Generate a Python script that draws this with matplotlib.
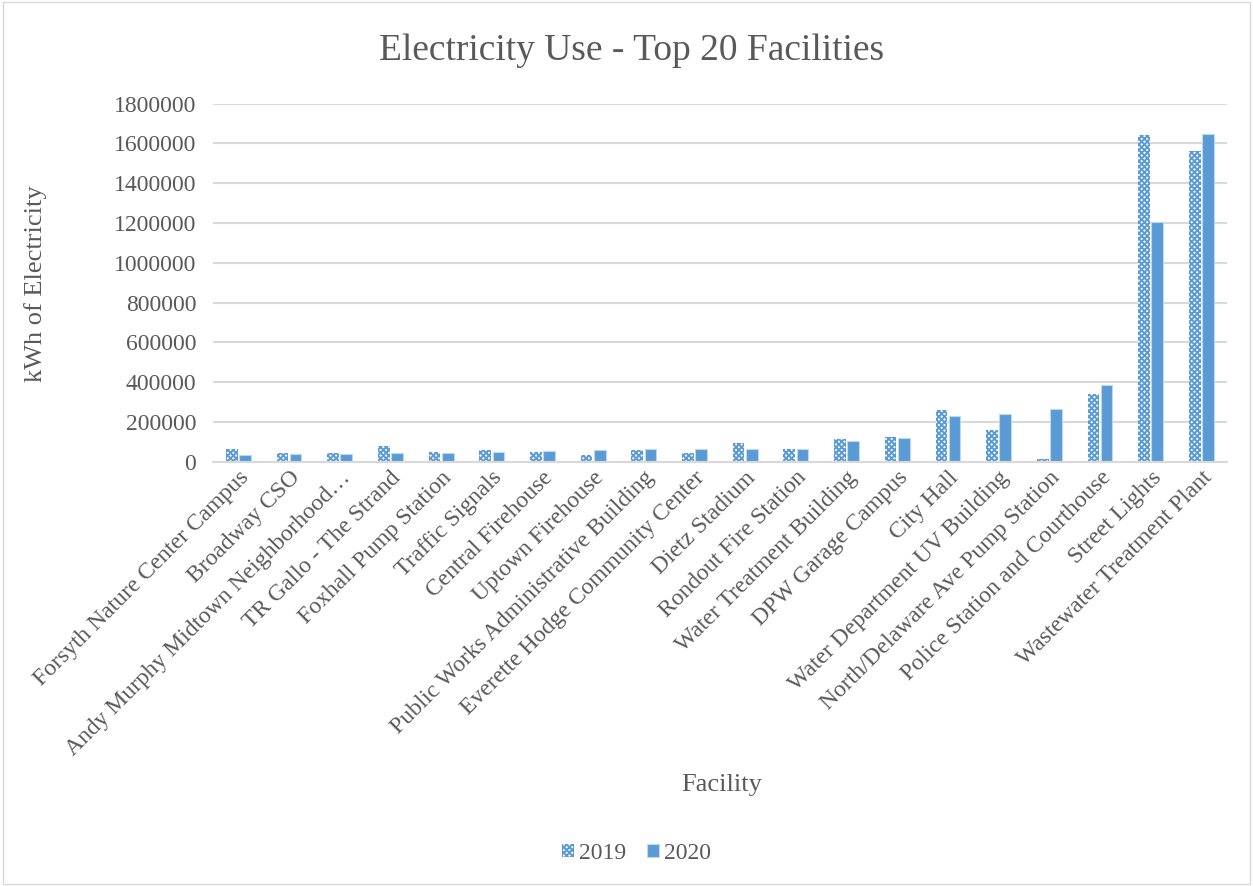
import matplotlib.pyplot as plt
import numpy as np

plt.rcParams['font.family'] = ['Liberation Serif', 'DejaVu Serif']
plt.rcParams['hatch.linewidth'] = 1.4

# facilities and yearly kWh use
facilities = ["Forsyth Nature Center Campus", "Broadway CSO", "Andy Murphy Midtown Neighborhood…",
              "TR Gallo - The Strand", "Foxhall Pump Station", "Traffic Signals", "Central Firehouse",
              "Uptown Firehouse", "Public Works Administrative Building", "Everette Hodge Community Center",
              "Dietz Stadium", "Rondout Fire Station", "Water Treatment Building", "DPW Garage Campus",
              "City Hall", "Water Department UV Building", "North/Delaware Ave Pump Station",
              "Police Station and Courthouse", "Street Lights", "Wastewater Treatment Plant"]
use_2019 = [64000, 45000, 45000, 76000, 50000, 57000, 50000, 35000, 59000, 45000,
            93000, 62000, 113000, 122000, 258000, 159000, 15000, 341000, 1640000, 1563000]
use_2020 = [35000, 37000, 40000, 42000, 45000, 47000, 52000, 57000, 61000, 61000,
            61000, 62000, 106000, 120000, 231000, 241000, 265000, 386000, 1206000, 1649000]
yticks = [0, 200000, 400000, 600000, 800000, 1000000, 1200000, 1400000, 1600000, 1800000]

blue = '#5b9bd5'
grey = '#595959'

fig = plt.figure(figsize=(12.53, 8.86), dpi=100)
ax = fig.add_axes([0.170, 0.479, 0.809, 0.404])

x = np.arange(len(facilities))
w = 0.23
b1 = ax.bar(x - 0.13, use_2019, w, color='white', edgecolor=blue, hatch='xxxxxx', linewidth=0, label='2019')
b2 = ax.bar(x + 0.13, use_2020, w, color=blue, edgecolor='#bdd7ee', linewidth=0.8, label='2020')

ax.set_xlim(-0.5, len(facilities) - 0.5)
ax.set_ylim(0, 1800000)
ax.set_yticks(yticks)
ax.set_yticklabels([str(v) for v in yticks], fontsize=17, color=grey)
ax.yaxis.grid(True, color='#d9d9d9', linewidth=1.5)
ax.set_axisbelow(True)
for s in ['top', 'right', 'left']:
    ax.spines[s].set_visible(False)
ax.spines['bottom'].set_color('#d9d9d9')
ax.spines['bottom'].set_linewidth(1.5)
ax.tick_params(axis='both', length=0)
ax.tick_params(axis='y', pad=12)
ax.tick_params(axis='x', pad=4)

ax.set_xticks(x)
ax.set_xticklabels(facilities, rotation=45, ha='right', rotation_mode='anchor', fontsize=17, color=grey)

fig.text(0.028, 0.68, 'kWh of Electricity', rotation=90, ha='center', va='center', fontsize=19, color=grey)
fig.text(0.576, 0.114, 'Facility', ha='center', va='center', fontsize=19, color=grey)
fig.suptitle('Electricity Use - Top 20 Facilities', x=0.504, y=0.962, fontsize=27, color=grey)

leg = fig.legend(handles=[b1, b2], loc='center', bbox_to_anchor=(0.508, 0.037), ncol=2,
                 frameon=False, fontsize=17, handlelength=0.5, handleheight=0.5,
                 handletextpad=0.2, columnspacing=0.9)
for t in leg.get_texts():
    t.set_color(grey)

# light outer border like the exported chart
fig.patches.append(plt.Rectangle((0.002, 0.002), 0.996, 0.996, transform=fig.transFigure,
                                 fill=False, edgecolor='#d9d9d9', linewidth=1))

fig.savefig('out.png', dpi=100)
